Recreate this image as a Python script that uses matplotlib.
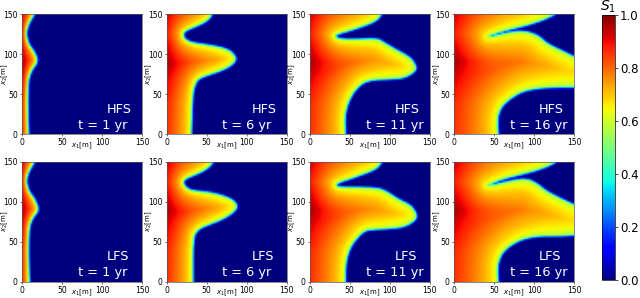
import numpy as np
import matplotlib
matplotlib.use('Agg')
import matplotlib.pyplot as plt
from matplotlib.path import Path

# front positions (x1, x2), one list per panel
hfs_1 = [(7, 0), (6, 30), (6, 50), (7, 70), (12, 82), (19, 91), (14, 103), (7, 112), (4, 125), (6, 135), (10, 143), (14, 150)]
hfs_6 = [(29, 0), (30, 30), (31, 50), (33, 60), (38, 70), (51, 75), (72, 82), (86, 92), (82, 100), (72, 106), (51, 110),
         (30, 113), (21, 118), (19, 125), (22, 130), (34, 135), (45, 140), (52, 145), (55, 150)]
hfs_11 = [(43, 0), (42, 20), (45, 35), (49, 45), (55, 55), (65, 65), (78, 69), (97, 70), (117, 71), (132, 80), (130, 87),
          (124, 95), (109, 103), (92, 113), (84, 118), (59, 117), (42, 117), (32, 119), (30, 125), (55, 132), (82, 142), (88, 150)]
hfs_16 = [(54, 0), (53, 20), (56, 30), (61, 38), (72, 47), (86, 55), (107, 59), (132, 60), (150, 60), (150, 95),
          (136, 102), (115, 112), (105, 122), (86, 128), (65, 125), (45, 120), (39, 122), (61, 130), (90, 137), (109, 143), (124, 150)]
lfs_1 = [(8, 0), (7, 30), (7, 50), (8, 70), (13, 82), (20, 90), (15, 103), (8, 112), (4, 125), (6, 135), (10, 143), (14, 150)]
lfs_6 = [(31, 0), (31, 40), (32, 50), (33, 60), (40, 68), (52, 73), (72, 81), (87, 92), (84, 100), (72, 106), (52, 111),
         (30, 113), (22, 118), (19, 125), (22, 130), (34, 135), (45, 140), (52, 145), (56, 150)]
lfs_11 = [(43, 0), (43, 20), (46, 35), (50, 45), (57, 55), (67, 65), (78, 67), (97, 68), (117, 70), (131, 78), (132, 85),
          (125, 95), (110, 102), (95, 112), (85, 116), (60, 117), (42, 117), (33, 118), (31, 124), (55, 132), (82, 142), (88, 150)]
lfs_16 = [(54, 0), (53, 20), (56, 30), (60, 38), (70, 47), (85, 55), (105, 59), (132, 59), (150, 60), (150, 95),
          (135, 102), (115, 112), (103, 122), (90, 128), (70, 125), (50, 120), (40, 120), (42, 122), (60, 130), (85, 136), (110, 143), (125, 150)]

fronts = [[hfs_1, hfs_6, hfs_11, hfs_16], [lfs_1, lfs_6, lfs_11, lfs_16]]
models = ['HFS', 'LFS']
years = [1, 6, 11, 16]

# saturation at the inlet side, by x2
inlet_x2 = [0, 40, 70, 90, 110, 125, 150]
inlet_s = [0.86, 0.87, 0.92, 0.97, 0.92, 0.88, 0.93]
# how saturation falls between inlet (1) and front (0)
prof_r = [0, 0.05, 0.15, 0.3, 0.5, 0.75, 1]
prof_g = [0, 0.18, 0.36, 0.52, 0.68, 0.85, 1]
s_front = 0.58

ticks = [0, 50, 100, 150]
cbar_ticks = [0.0, 0.2, 0.4, 0.6, 0.8, 1.0]

W, H = 640, 298
left_px = [22, 166.5, 309.5, 454]
top_px = [14, 161.5]
size_px = 120


def smooth(pts, n=2):
    pts = np.array(pts, float)
    for _ in range(n):
        q = 0.75 * pts[:-1] + 0.25 * pts[1:]
        r = 0.25 * pts[:-1] + 0.75 * pts[1:]
        mid = np.empty((2 * len(q), 2))
        mid[0::2] = q
        mid[1::2] = r
        pts = np.vstack([pts[0], mid, pts[-1]])
    return pts


def field(front):
    c = (np.arange(70) + 0.5) * 150 / 70
    xx, yy = np.meshgrid(c, c)
    raw = np.array(front, float)
    # smooth each part on its own so the part on the right edge stays there
    on_edge = np.where((raw[:-1, 0] >= 150) & (raw[1:, 0] >= 150))[0]
    if len(on_edge):
        k = on_edge[0]
        parts = [smooth(raw[:k + 1]), smooth(raw[k + 1:])]
    else:
        parts = [smooth(raw)]
    d = np.full(xx.shape, 1e9)
    for p in parts:
        a = p[:-1]
        b = p[1:]
        for (ax_, ay), (bx, by) in zip(a, b):
            vx, vy = bx - ax_, by - ay
            t = ((xx - ax_) * vx + (yy - ay) * vy) / max(vx * vx + vy * vy, 1e-9)
            t = np.clip(t, 0, 1)
            d = np.minimum(d, np.hypot(xx - ax_ - t * vx, yy - ay - t * vy))
    poly = np.vstack([[0, 0]] + parts + [[0, 150]])
    inside = Path(poly).contains_points(np.c_[xx.ravel(), yy.ravel()]).reshape(xx.shape)
    r = d / (d + xx)
    s_in = np.interp(yy, inlet_x2, inlet_s)
    s = s_front + (s_in - s_front) * np.interp(r, prof_r, prof_g)
    # sharp drop just outside the front
    out = s_front * np.clip(1 - d / 4.0, 0, 1)
    return np.where(inside, s, out)


fig = plt.figure(figsize=(W / 100, H / 100), dpi=100)
im = None
for i, row in enumerate(fronts):
    for j, front in enumerate(row):
        ax = fig.add_axes([left_px[j] / W, 1 - (top_px[i] + size_px) / H, size_px / W, size_px / H])
        im = ax.imshow(field(front), cmap='jet', vmin=0, vmax=1, origin='lower', extent=[0, 150, 0, 150],
                       aspect='auto', interpolation='bilinear')
        ax.set_xticks(ticks)
        ax.set_yticks(ticks)
        ax.tick_params(labelsize=5.5, length=1.5, width=0.4, pad=1.5)
        for sp in ax.spines.values():
            sp.set_linewidth(0.5)
            sp.set_color('#555555')
        ax.set_xlabel('$x_1$[m]', fontsize=5, va='center')
        ax.xaxis.set_label_coords(0.5, -0.095)
        ax.set_ylabel('$x_2$[m]', fontsize=5, va='center')
        ax.yaxis.set_label_coords(-0.145, 0.5)
        ax.text(106, 31, models[i], color='white', fontsize=9.3, va='center', ha='left')
        ax.text(70, 11, 't = %d yr' % years[j], color='white', fontsize=9.3, va='center', ha='left')

cax = fig.add_axes([602 / W, 1 - 280 / H, 13 / W, 265 / H])
cb = fig.colorbar(im, cax=cax)
cb.set_ticks(cbar_ticks)
cb.ax.tick_params(labelsize=8.5, length=2, width=0.5, pad=1.5)
cb.outline.set_linewidth(0.5)
cb.ax.set_title('$S_1$', fontsize=10, pad=0.5)

fig.savefig('out.png', dpi=100)
